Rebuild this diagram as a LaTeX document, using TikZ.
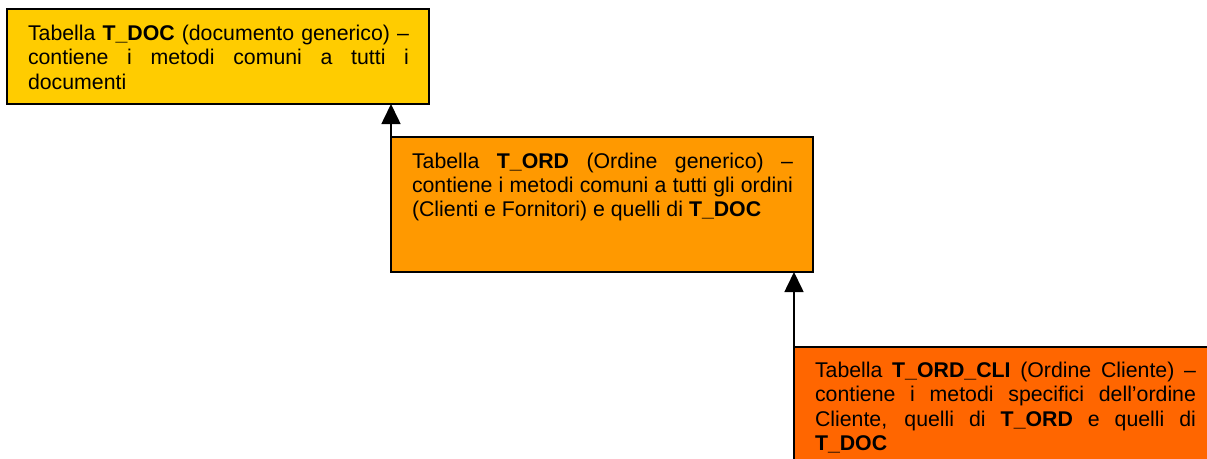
\documentclass[tikz,border=0pt]{standalone}
\usepackage{fontspec}
\setmainfont{Liberation Sans}
\usetikzlibrary{arrows.meta}
\definecolor{cdoc}{HTML}{FFCC00}
\definecolor{cord}{HTML}{FF9900}
\definecolor{ccli}{HTML}{FF6600}
\newcommand{\boxfont}{\fontsize{21.3pt}{24.3pt}\selectfont}
\begin{document}
\hyphenpenalty=10000
\exhyphenpenalty=10000
\begin{tikzpicture}[x=1pt,y=-1pt,
  box/.style={draw=black, line width=1.6pt, inner sep=0pt, outer sep=0pt,
              minimum width=422pt, anchor=north west},
  txt/.style={text width=381pt, align=justify, inner sep=0pt, outer sep=0pt,
              anchor=base west, font=\boxfont},
  inh/.style={line width=1.6pt, -{Triangle[width=19pt,length=20pt]}}]
\useasboundingbox (0,0) rectangle (1207,458);
\begin{scope}
\clip (0,0) rectangle (1207,458);
\node[box, fill=cdoc, minimum height=95pt] (doc) at (7,9) {};
\node[box, fill=cord, minimum height=135pt] (ord) at (391,137) {};
\node[box, fill=ccli, minimum height=135pt] (cli) at (794,347) {};
\node[txt] (doct) at ([shift={(21,31.5)}]doc.north west)
  {Tabella \textbf{T\_DOC} (documento generico) –\linebreak contiene i metodi comuni a tutti i\linebreak documenti};
\node[txt] (ordt) at ([shift={(21,31)}]ord.north west)
  {Tabella \textbf{T\_ORD} (Ordine generico) –\linebreak contiene i metodi comuni a tutti gli ordini\linebreak (Clienti e Fornitori) e quelli di \textbf{T\_DOC}};
\node[txt] (clit) at ([shift={(21,30.5)}]cli.north west)
  {Tabella \textbf{T\_ORD\_CLI} (Ordine Cliente) –\linebreak contiene i metodi specifici dell’ordine\linebreak Cliente, quelli di \textbf{T\_ORD} e quelli di\linebreak \textbf{T\_DOC}};
\draw[inh] (ord.north west) -- (ord.north west |- doc.south);
\draw[inh] (cli.north west) -- (cli.north west |- ord.south);
\end{scope}
\end{tikzpicture}
\end{document}
